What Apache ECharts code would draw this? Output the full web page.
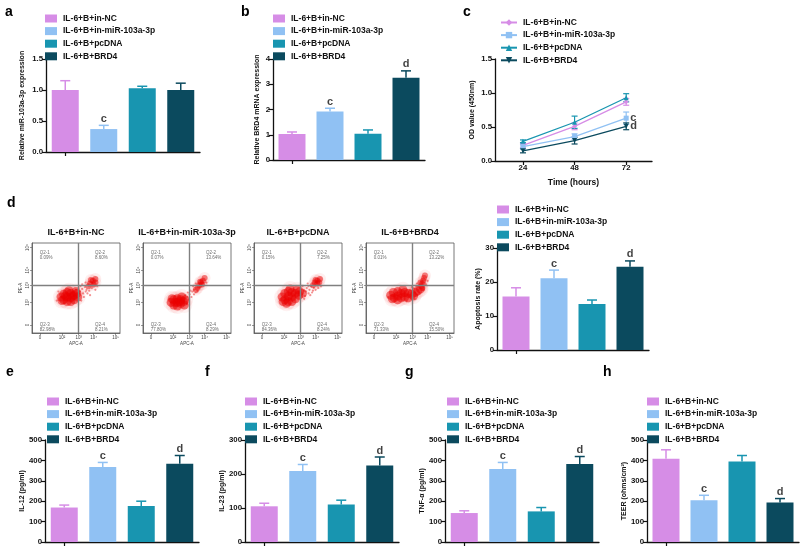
<!DOCTYPE html>
<html><head><meta charset="utf-8">
<script src="https://cdn.jsdelivr.net/npm/echarts@6/dist/echarts.min.js"></script>
<style>html,body{margin:0;padding:0;background:#fff}#c{width:800px;height:546px}</style>
</head><body><div id="c"></div><script>
// ---------- data ----------
const groups = ['IL-6+B+in-NC', 'IL-6+B+in-miR-103a-3p', 'IL-6+B+pcDNA', 'IL-6+B+BRD4'];
const colors = ['#d68de6', '#90c1f3', '#1895b0', '#0b4a5e'];

const miRMean = [1.00, 0.37, 1.03, 1.00];
const miRErr  = [1.15, 0.43, 1.06, 1.11];
const miRSig  = ['', 'c', '', ''];

const brd4Mean = [1.03, 1.92, 1.04, 3.26];
const brd4Err  = [1.11, 2.05, 1.19, 3.53];
const brd4Sig  = ['', 'c', '', 'd'];

const timePoints = [24, 48, 72];
const odNC    = [0.23, 0.51, 0.87];
const odNCSd  = [0.03, 0.05, 0.05];
const odMiR   = [0.21, 0.36, 0.63];
const odMiRSd = [0.03, 0.04, 0.09];
const odPc    = [0.29, 0.57, 0.93];
const odPcSd  = [0.02, 0.09, 0.06];
const odBrd   = [0.15, 0.30, 0.51];
const odBrdSd = [0.03, 0.05, 0.05];
const odSig   = ['', 'c', '', 'd'];

const apoMean = [15.7, 21.1, 13.5, 24.5];
const apoErr  = [18.3, 23.5, 14.7, 26.2];
const apoSig  = ['', 'c', '', 'd'];

const il12Mean = [169, 368, 177, 384];
const il12Err  = [181, 390, 200, 424];
const il23Mean = [105, 209, 110, 225];
const il23Err  = [114, 228, 123, 250];
const tnfMean  = [142, 358, 150, 382];
const tnfErr   = [153, 390, 169, 419];
const teerMean = [408, 205, 395, 194];
const teerErr  = [452, 229, 424, 213];
const cytoSig  = ['', 'c', '', 'd'];

// flow cytometry (display units 0-100 per axis)
const flowTitles = ['IL-6+B+in-NC', 'IL-6+B+in-miR-103a-3p', 'IL-6+B+pcDNA', 'IL-6+B+BRD4'];
const flowGateX = [52, 53, 53, 52];
const flowGateY = [53, 53, 53, 53];
const flowQ1 = ['0.09%', '0.07%', '0.15%', '0.01%'];
const flowQ2 = ['8.60%', '13.64%', '7.25%', '13.22%'];
const flowQ3 = ['82.98%', '77.80%', '84.36%', '71.33%'];
const flowQ4 = ['8.21%', '8.29%', '8.24%', '15.50%'];
const flowTickVals = [9, 34, 53, 70, 95];
const flowTickText = ['0', '10²', '10³', '10⁴', '10⁵'];
const flowCore = [
  [[33,40],[36,43],[36,37],[40,45],[40,40],[40,35],[44,44],[44,39],[44,35],[48,42],[48,37],[52,40],[51,44],[38,41],[46,41],[42,47],[34,36],[50,46]],
  [[32,34],[35,37],[35,31],[39,38],[39,34],[39,30],[43,37],[43,33],[46,35],[47,31],[36,34],[42,35],[44,40],[33,38],[48,37]],
  [[32,40],[35,44],[35,37],[39,46],[39,41],[39,35],[43,45],[43,40],[43,35],[47,44],[47,38],[51,42],[52,46],[55,44],[37,33],[41,49],[49,48],[33,35]],
  [[28,42],[31,45],[32,39],[36,46],[36,41],[36,37],[40,44],[40,39],[44,45],[44,40],[48,44],[48,39],[52,43],[56,45],[59,47],[62,49],[30,38],[42,48],[54,41]]
];
const flowHigh = [
  [[66,55],[69,58],[72,60],[70,54],[67,59],[72,56],[64,52]],
  [[62,50],[64,53],[66,56],[68,58],[70,61],[67,54],[65,57],[60,48]],
  [[69,56],[72,58],[75,60],[72,55],[70,59],[74,56],[67,53]],
  [[63,52],[64,55],[65,58],[66,61],[67,64],[62,56],[64,50]]
];
const flowSparse = [
  [[54,46],[57,49],[60,51],[62,48],[64,53],[58,44],[55,52],[61,56],[65,47],[63,44],[50,48],[30,46],[28,36],[56,36],[72,48],[74,52],[59,40],[66,42],[53,50],[68,50],[61,46],[57,54]],
  [[50,40],[53,43],[56,46],[58,48],[60,45],[52,37],[48,42],[57,52],[72,56],[60,55],[30,38],[50,32],[54,47],[62,46],[55,40],[58,43],[64,50],[51,45]],
  [[57,47],[60,50],[63,48],[65,52],[58,41],[62,44],[66,45],[68,50],[55,52],[61,55],[70,48],[76,52],[59,46],[64,42],[67,47],[57,38],[73,50],[62,52]],
  [[50,48],[54,50],[57,52],[60,53],[55,38],[25,40],[46,35],[58,42],[68,54],[70,58],[52,51],[61,44],[58,55],[65,48]]
];

// ---------- chart ----------
const FONT = 'Liberation Sans, Arial, Helvetica, sans-serif';
const grids = [], xAxes = [], yAxes = [], series = [], legends = [], graphics = [];
const axisLine = { show: true, lineStyle: { color: '#111', width: 1.3 } };
const axisTick = { show: true, length: 4, lineStyle: { color: '#111', width: 1.2 } };
const tickFont = { fontSize: 7.8, fontWeight: 'bold', color: '#111', fontFamily: FONT, margin: 3 };
const nameFont = { fontSize: 7, fontWeight: 'bold', color: '#111', fontFamily: FONT };

function errRender(params, api) {
  const i = api.value(0);
  const p0 = api.coord([i, api.value(1)]);
  const p1 = api.coord([i, api.value(2)]);
  const c = colors[i], w = 5;
  return { type: 'group', children: [
    { type: 'line', shape: { x1: p0[0], y1: p0[1], x2: p1[0], y2: p1[1] }, style: { stroke: c, lineWidth: 1.5 } },
    { type: 'line', shape: { x1: p1[0] - w, y1: p1[1], x2: p1[0] + w, y2: p1[1] }, style: { stroke: c, lineWidth: 1.5 } }
  ]};
}

function addLegend(left, top, names, extra) {
  legends.push(Object.assign({
    left: left, top: top, orient: 'vertical', padding: 0, itemGap: 3.6,
    itemWidth: 12, itemHeight: 8, icon: 'rect', selectedMode: false, data: names,
    textStyle: { fontSize: 8.5, fontWeight: 'bold', color: '#111', fontFamily: FONT, padding: [0, 0, 0, 1] }
  }, extra || {}));
}

function barPanel(grid, mean, err, sig, ymax, yint, yname, gap, fmt) {
  const gi = grids.length;
  grids.push(grid);
  xAxes.push({ gridIndex: gi, type: 'category', data: groups, axisLine: axisLine,
    axisTick: { show: true, alignWithLabel: true, length: 4, lineStyle: { color: '#111', width: 1.2 } },
    axisLabel: { show: false } });
  yAxes.push({ gridIndex: gi, type: 'value', min: 0, max: ymax, interval: yint,
    axisLine: axisLine, axisTick: axisTick, splitLine: { show: false },
    axisLabel: Object.assign({ formatter: fmt || null }, tickFont),
    name: yname, nameLocation: 'middle', nameGap: gap, nameTextStyle: nameFont });
  groups.forEach((g, i) => {
    series.push({ type: 'bar', name: g, xAxisIndex: gi, yAxisIndex: gi, barWidth: 27, barGap: '-100%',
      silent: true, itemStyle: { color: colors[i] },
      data: groups.map((_, j) => j === i ? mean[i] : '-') });
  });
  series.push({ type: 'custom', xAxisIndex: gi, yAxisIndex: gi, silent: true, z: 3,
    data: mean.map((m, i) => [i, m, err[i]]), renderItem: errRender });
  series.push({ type: 'scatter', xAxisIndex: gi, yAxisIndex: gi, silent: true, symbolSize: 0,
    data: err.map((e, i) => [i, e]),
    label: { show: true, position: 'top', distance: 1, formatter: p => sig[p.dataIndex],
      fontSize: 11, fontWeight: 'bold', color: '#111', fontFamily: FONT } });
}

// a
barPanel({ left: 46, top: 59, width: 154, height: 93 }, miRMean, miRErr, miRSig, 1.5, 0.5,
  'Relative miR-103a-3p expression', 20, v => v.toFixed(1));
addLegend(45, 14, groups);
// b
barPanel({ left: 273, top: 59, width: 152, height: 101 }, brd4Mean, brd4Err, brd4Sig, 4, 1,
  'Relative BRD4 mRNA expression', 12);
addLegend(273, 14, groups);

// c (line chart)
(function () {
  const gi = grids.length;
  grids.push({ left: 495, top: 59, width: 157, height: 102 });
  xAxes.push({ gridIndex: gi, type: 'value', min: 11, max: 84, axisLine: axisLine,
    axisTick: Object.assign({ customValues: timePoints }, axisTick),
    axisLabel: Object.assign({ customValues: timePoints }, tickFont),
    splitLine: { show: false }, name: 'Time (hours)', nameLocation: 'middle', nameGap: 17,
    nameTextStyle: { fontSize: 8.5, fontWeight: 'bold', color: '#111', fontFamily: FONT } });
  yAxes.push({ gridIndex: gi, type: 'value', min: 0, max: 1.5, interval: 0.5,
    axisLine: axisLine, axisTick: axisTick, splitLine: { show: false },
    axisLabel: Object.assign({ formatter: v => v.toFixed(1) }, tickFont),
    name: 'OD value (450nm)', nameLocation: 'middle', nameGap: 19, nameTextStyle: nameFont });
  const means = [odNC, odMiR, odPc, odBrd];
  const sds = [odNCSd, odMiRSd, odPcSd, odBrdSd];
  const symbols = ['diamond', 'rect', 'triangle', 'triangle'];
  const lineNames = groups.map(g => g + '\u200b');
  means.forEach((m, i) => {
    series.push({ type: 'line', name: lineNames[i], xAxisIndex: gi, yAxisIndex: gi, silent: true,
      data: timePoints.map((t, k) => [t, m[k]]), symbol: symbols[i], symbolSize: 5,
      symbolRotate: i === 3 ? 180 : 0, color: colors[i],
      lineStyle: { color: colors[i], width: 1.3 }, itemStyle: { color: colors[i] } });
    series.push({ type: 'custom', xAxisIndex: gi, yAxisIndex: gi, silent: true, z: 3,
      data: timePoints.map((t, k) => [t, m[k] - sds[i][k], m[k] + sds[i][k]]),
      renderItem: function (params, api) {
        const a = api.coord([api.value(0), api.value(1)]);
        const b = api.coord([api.value(0), api.value(2)]);
        const w = 3, c = colors[i];
        return { type: 'group', children: [
          { type: 'line', shape: { x1: a[0], y1: a[1], x2: b[0], y2: b[1] }, style: { stroke: c, lineWidth: 1.2 } },
          { type: 'line', shape: { x1: b[0] - w, y1: b[1], x2: b[0] + w, y2: b[1] }, style: { stroke: c, lineWidth: 1.2 } },
          { type: 'line', shape: { x1: a[0] - w, y1: a[1], x2: a[0] + w, y2: a[1] }, style: { stroke: c, lineWidth: 1.2 } }
        ]};
      } });
  });
  series.push({ type: 'scatter', xAxisIndex: gi, yAxisIndex: gi, silent: true, symbolSize: 0,
    data: means.map(m => [timePoints[2], m[2]]),
    label: { show: true, position: 'right', distance: 4, formatter: p => odSig[p.dataIndex],
      fontSize: 11, fontWeight: 'bold', color: '#111', fontFamily: FONT } });
  addLegend(500, 18, lineNames, { itemWidth: 16, icon: null, itemGap: 3.6 });
})();

// d: flow plots
const flowLefts = [32, 143, 254, 366];
flowLefts.forEach((L, f) => {
  const gi = grids.length;
  grids.push({ left: L, top: 243, width: 88, height: 90, show: true, borderColor: '#555', borderWidth: 0.8 });
  const ax = {
    type: 'value', min: 0, max: 100, splitLine: { show: false },
    axisLine: { show: true, lineStyle: { color: '#555', width: 0.8 } },
    axisTick: { show: true, customValues: flowTickVals, length: 2, lineStyle: { color: '#555', width: 0.6 } },
    axisLabel: { show: true, customValues: flowTickVals, formatter: v => flowTickText[flowTickVals.indexOf(v)],
      fontSize: 4.5, color: '#444', fontFamily: FONT, margin: 2 },
    nameLocation: 'middle', nameTextStyle: { fontSize: 4.5, color: '#444', fontFamily: FONT }
  };
  xAxes.push(Object.assign({ gridIndex: gi, name: 'APC-A', nameGap: 8 }, ax));
  yAxes.push(Object.assign({ gridIndex: gi, name: 'PE-A', nameGap: 9 }, ax,
    { axisLabel: Object.assign({}, ax.axisLabel, { rotate: 90 }) }));
  series.push({ type: 'scatter', xAxisIndex: gi, yAxisIndex: gi, silent: true, symbolSize: 16,
    itemStyle: { color: 'rgba(240,60,60,0.09)' }, data: flowCore[f] });
  series.push({ type: 'scatter', xAxisIndex: gi, yAxisIndex: gi, silent: true, symbolSize: 12,
    itemStyle: { color: 'rgba(240,60,60,0.10)' }, data: flowHigh[f] });
  series.push({ type: 'scatter', xAxisIndex: gi, yAxisIndex: gi, silent: true, symbolSize: 2.2,
    itemStyle: { color: 'rgba(230,30,30,0.6)' }, data: flowSparse[f] });
  series.push({ type: 'scatter', xAxisIndex: gi, yAxisIndex: gi, silent: true, symbolSize: 9,
    itemStyle: { color: 'rgba(235,0,0,0.6)' }, data: flowCore[f] });
  series.push({ type: 'scatter', xAxisIndex: gi, yAxisIndex: gi, silent: true, symbolSize: 6,
    itemStyle: { color: 'rgba(235,0,0,0.6)' }, data: flowHigh[f],
    markLine: { silent: true, symbol: 'none', label: { show: false },
      lineStyle: { color: '#808080', width: 1.4, type: 'solid' },
      data: [{ xAxis: flowGateX[f] }, { yAxis: flowGateY[f] }] } });
  series.push({ type: 'scatter', xAxisIndex: gi, yAxisIndex: gi, silent: true, symbolSize: 0,
    data: [[3, 97, 'Q2-1\n' + flowQ1[f]], [66, 97, 'Q2-2\n' + flowQ2[f]],
           [3, 18, 'Q2-3\n' + flowQ3[f]], [66, 18, 'Q2-4\n' + flowQ4[f]]],
    label: { show: true, position: 'insideTopLeft', formatter: p => p.data[2], align: 'left',
      verticalAlign: 'top', fontSize: 4.5, lineHeight: 5, color: '#444', fontFamily: FONT } });
  graphics.push({ type: 'text', x: L + 44, y: 233, style: { text: flowTitles[f], textAlign: 'center',
    textVerticalAlign: 'middle', font: 'bold 9px ' + FONT, fill: '#111' } });
});

// apoptosis
barPanel({ left: 497, top: 248, width: 152, height: 102 }, apoMean, apoErr, apoSig, 30, 10,
  'Apoptosis rate (%)', 13);
addLegend(497, 205, groups);

// e-h
barPanel({ left: 45, top: 440, width: 154, height: 103 }, il12Mean, il12Err, cytoSig, 500, 100, 'IL-12 (pg/ml)', 19);
addLegend(47, 397, groups);
barPanel({ left: 245, top: 440, width: 154, height: 103 }, il23Mean, il23Err, cytoSig, 300, 100, 'IL-23 (pg/ml)', 19);
addLegend(245, 397, groups);
barPanel({ left: 445, top: 440, width: 154, height: 103 }, tnfMean, tnfErr, cytoSig, 500, 100, 'TNF-α (pg/ml)', 19);
addLegend(447, 397, groups);
barPanel({ left: 647, top: 440, width: 152, height: 103 }, teerMean, teerErr, cytoSig, 500, 100, 'TEER (ohms/cm²)', 19);
addLegend(647, 397, groups);

// panel letters
[['a', 5, 12], ['b', 241, 12], ['c', 463, 12], ['d', 7, 203], ['e', 6, 372], ['f', 205, 372], ['g', 405, 372], ['h', 603, 372]]
  .forEach(([t, x, y]) => graphics.push({ type: 'text', x: x, y: y,
    style: { text: t, textVerticalAlign: 'middle', font: 'bold 14px ' + FONT, fill: '#000' } }));

const chart = echarts.init(document.getElementById('c'), null, { renderer: 'canvas' });
chart.setOption({
  animation: false, backgroundColor: '#fff',
  grid: grids, xAxis: xAxes, yAxis: yAxes, legend: legends, series: series, graphic: graphics
});
</script></body></html>
